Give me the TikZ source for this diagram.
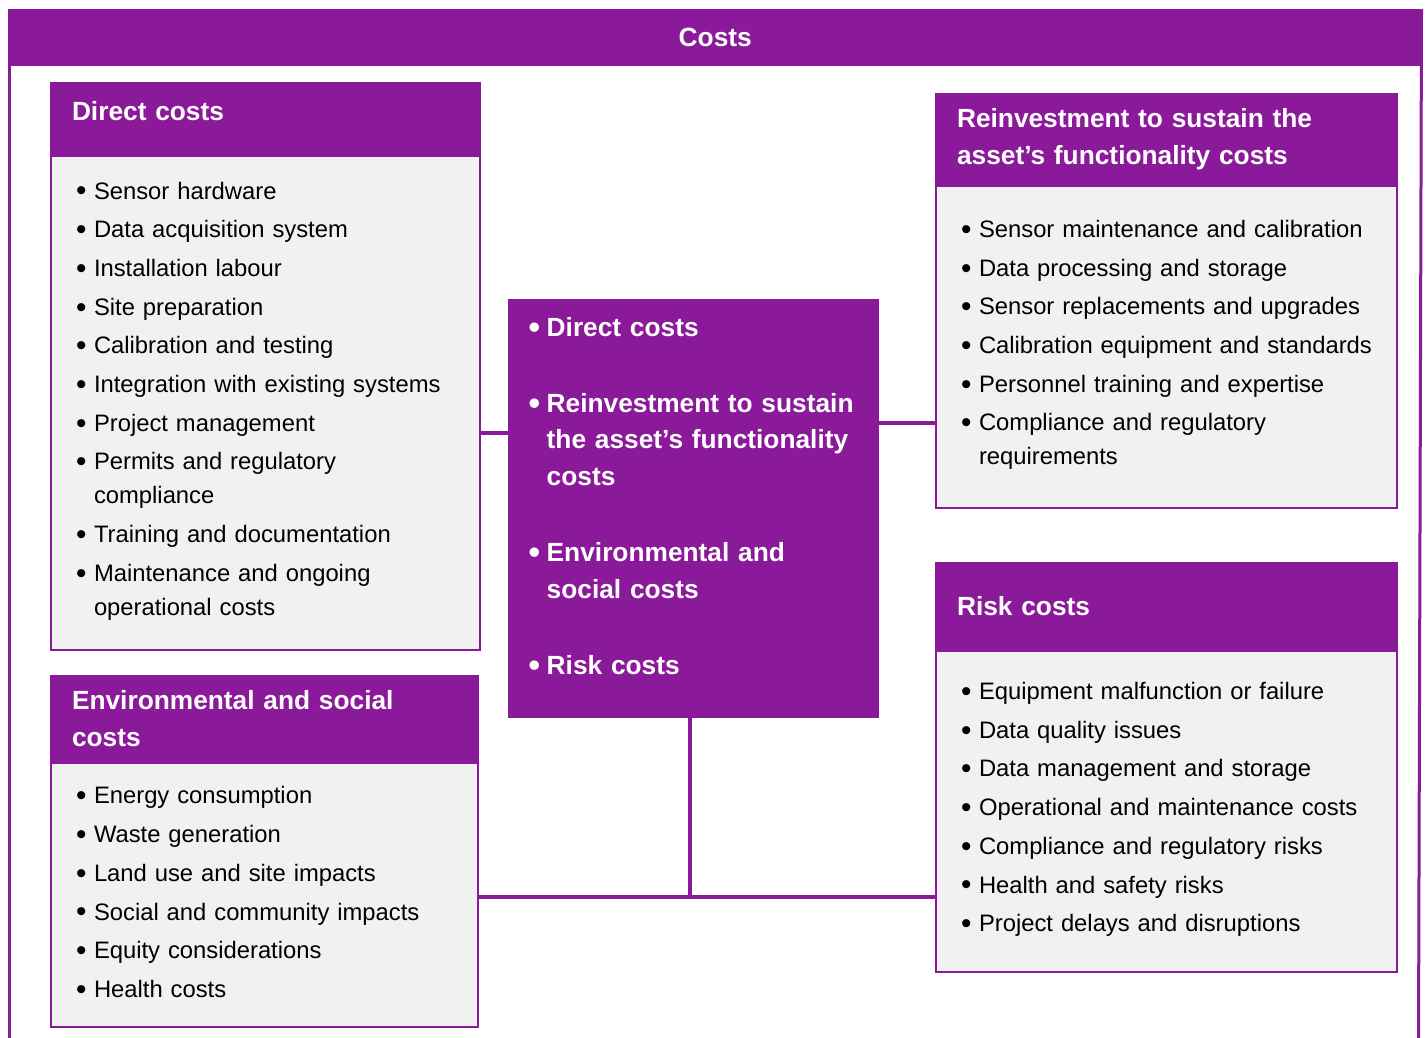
\documentclass[tikz,border=0pt]{standalone}
\usepackage{fontspec}
\usepackage{graphicx}
\setmainfont{Liberation Sans}
\usetikzlibrary{positioning}
\definecolor{costpurple}{RGB}{139,26,154}
\definecolor{boxgrey}{RGB}{241,241,241}
\newcommand{\headfont}{\fontsize{26.3}{36.7}\selectfont\bfseries}
\newcommand{\listfont}{\fontsize{23.8}{34}\selectfont}
\newcommand{\bul}[1]{\hangindent=18pt\hangafter=1\noindent\hbox to 18pt{\raisebox{-0.08em}{\scalebox{1.25}{\textbullet}}\hfil}#1\par}
\tikzstyle{banner} = [rectangle, draw=costpurple, fill=costpurple, line width=3pt, text=white, font=\headfont, minimum width=1409.5pt, minimum height=53.5pt, anchor=north west]
\tikzstyle{frame} = [draw=costpurple, line width=3pt]
\tikzstyle{headbox} = [rectangle, draw=costpurple, fill=costpurple, line width=2pt, text=white, font=\headfont, inner sep=0pt, anchor=north west, execute at begin node={\raggedright\leftskip=21pt}]
\tikzstyle{listbox} = [rectangle, draw=costpurple, fill=boxgrey, line width=2pt, font=\listfont, inner sep=0pt, execute at begin node={\raggedright\leftskip=25pt\parskip=4.7pt}, execute at end node={\vspace*{4pt}}]
\tikzstyle{hubbox} = [rectangle, fill=costpurple, text=white, font=\headfont, inner sep=0pt, anchor=north west, execute at begin node={\raggedright\leftskip=20.5pt\parskip=39.3pt}]
\tikzstyle{link} = [draw=costpurple, line width=3.5pt]

\begin{document}
\begin{tikzpicture}[x=1pt, y=1pt]
\useasboundingbox (0,0) rectangle (1427,-1037);

% Place nodes
\node (costs) [banner] at (9,-9) {Costs};
\coordinate (frameleft) at (9,-1045);
\coordinate (frameright) at (1418.5,-1045);

\node (dirhead) [headbox, text width=429pt, minimum height=71pt, text depth=16pt] at (50,-82) {Direct costs};
\node (dirbody) [listbox, text width=429pt, minimum height=494pt, below=0pt of dirhead] {%
  \bul{Sensor hardware}
  \bul{Data acquisition system}
  \bul{Installation labour}
  \bul{Site preparation}
  \bul{Calibration and testing}
  \bul{Integration with existing systems}
  \bul{Project management}
  \bul{Permits and regulatory\newline compliance}
  \bul{Training and documentation}
  \bul{Maintenance and ongoing\newline operational costs}};

\node (envhead) [headbox, text width=427pt, minimum height=85pt] at (50,-675) {Environmental and social\newline costs};
\node (envbody) [listbox, text width=427pt, minimum height=264pt, below=0pt of envhead] {%
  \bul{Energy consumption}
  \bul{Waste generation}
  \bul{Land use and site impacts}
  \bul{Social and community impacts}
  \bul{Equity considerations}
  \bul{Health costs}};

\node (centre) [hubbox, text width=371pt, minimum height=419pt] at (508,-299) {%
  \bul{Direct costs}
  \bul{Reinvestment to sustain\newline the asset’s functionality\newline costs}
  \bul{Environmental and\newline social costs}
  \bul{Risk costs}\vspace*{24pt}};

\node (reinvhead) [headbox, text width=461pt, minimum height=90pt] at (935,-93) {Reinvestment to sustain the\newline asset’s functionality costs};
\node (reinvbody) [listbox, text width=461pt, minimum height=322pt, below=0pt of reinvhead] {%
  \bul{Sensor maintenance and calibration}
  \bul{Data processing and storage}
  \bul{Sensor replacements and upgrades}
  \bul{Calibration equipment and standards}
  \bul{Personnel training and expertise}
  \bul{Compliance and regulatory\newline requirements}};

\node (riskhead) [headbox, text width=461pt, minimum height=86pt] at (935,-562) {Risk costs};
\node (riskbody) [listbox, text width=461pt, minimum height=321pt, below=0pt of riskhead] {%
  \bul{Equipment malfunction or failure}
  \bul{Data quality issues}
  \bul{Data management and storage}
  \bul{Operational and maintenance costs}
  \bul{Compliance and regulatory risks}
  \bul{Health and safety risks}
  \bul{Project delays and disruptions}};

\coordinate (junction) at (690,-897);

% Draw lines
\draw [frame] (costs.north west) -- (frameleft);
\draw [frame] (costs.north east) -- (frameright);
\draw [link] (dirbody.east |- 0,-433) -- (centre.west |- 0,-433);
\draw [link] (centre.east |- 0,-423) -- (reinvbody.west |- 0,-423);
\draw [link] (centre.south -| junction) -- (junction);
\draw [link] (envbody.east |- junction) -- (riskbody.west |- junction);

\end{tikzpicture}
\end{document}
